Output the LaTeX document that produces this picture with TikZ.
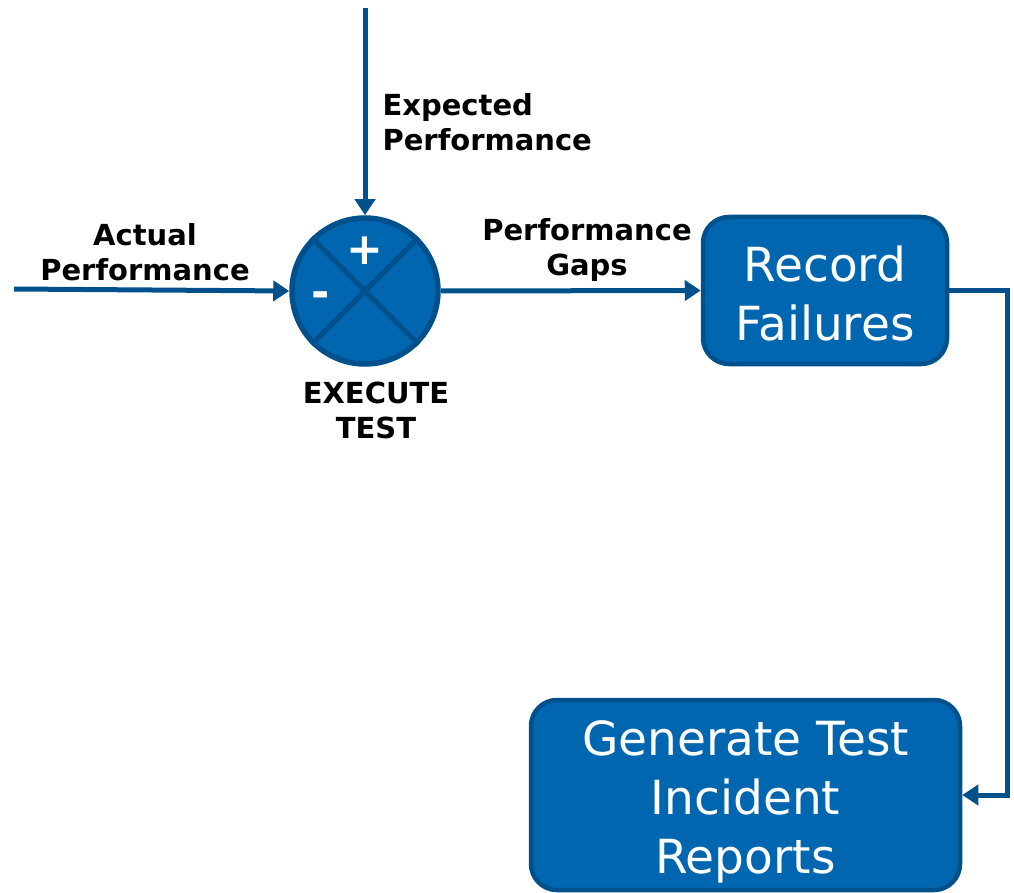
\documentclass[tikz,border=0pt]{standalone}
\usepackage{fontspec}
\setmainfont{DejaVu Sans}
\usetikzlibrary{arrows.meta}
\definecolor{boxfill}{RGB}{0,102,176}
\definecolor{boxline}{RGB}{0,80,140}
\begin{document}
\begin{tikzpicture}[x=1pt,y=-1pt,
 conn/.style={draw=boxline,line width=5pt,-{Triangle[length=16pt,width=20pt]}},
 procbox/.style={draw=boxline,fill=boxfill,line width=4.5pt,rounded corners=26pt,text=white,align=center,font=\fontsize{47}{59}\selectfont,inner sep=0pt},
 lbl/.style={font=\fontsize{29}{35}\selectfont\bfseries,text=black},
 sign/.style={font=\fontsize{44}{44}\selectfont\bfseries,text=white,inner sep=0pt}]
\useasboundingbox (0,0) rectangle (1014,893);
\node[circle,draw=boxline,fill=boxfill,line width=5.5pt,minimum size=146pt,inner sep=0pt] (sum) at (365,291) {};
\draw[boxline,line width=5pt] (sum.45) -- (sum.225) (sum.135) -- (sum.315);
\node[sign] (plus) at (365,251) {+};
\node[sign] (minus) at (321,300) {-};
\node[procbox,minimum width=244pt,minimum height=147pt] (rec) at (825,290.5) {\raisebox{-3pt}[\height][\depth]{\parbox{240pt}{\centering Record\\Failures}}};
\node[procbox,minimum width=429pt,minimum height=190pt] (gen) at (745.5,795) {\raisebox{-7pt}[\height][\depth]{\parbox{420pt}{\centering Generate Test\\Incident\\Reports}}};
\node[lbl,align=left,anchor=west] (exp) at (379,122) {Expected\\Performance};
\node[lbl,align=center] (act) at (145,252) {Actual\\Performance};
\node[lbl,align=center] (gaps) at (587,250) {Performance\\Gaps};
\node[lbl,align=center] (exe) at (376,410) {EXECUTE\\TEST};
\coordinate (top) at (365,8);
\coordinate (left) at (14,289);
\draw[conn] (top) -- (sum.north);
\draw[conn] (left) -- (sum.west);
\draw[conn] (sum.east) -- (rec.west);
\draw[conn] (rec.east) -- ++(58,0) |- (gen.east);
\end{tikzpicture}
\end{document}
